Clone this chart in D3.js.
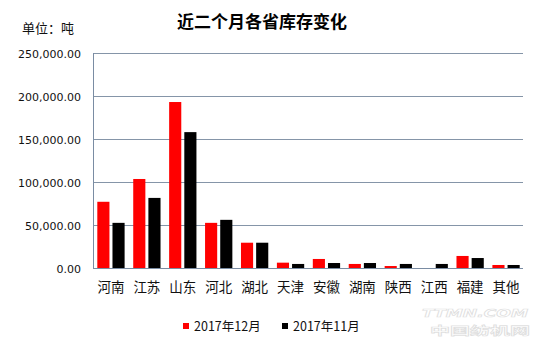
<!DOCTYPE html>
<html>
<head>
<meta charset="utf-8">
<script src="https://cdn.jsdelivr.net/npm/d3@7"></script>
<style>
  html, body { margin: 0; padding: 0; background: #fff; }
  svg { display: block; }
</style>
</head>
<body>
<svg id="chart" width="540" height="349"></svg>
<script>
// Provinces and stock (tonnes) for the last two months
const provinces = ["河南", "江苏", "山东", "河北", "湖北", "天津", "安徽", "湖南", "陕西", "江西", "福建", "其他"];
const stockDec2017 = [77000, 103500, 193000, 52500, 29400, 6200, 10500, 4700, 2300, 0, 14000, 3500];
const stockNov2017 = [52500, 81500, 158000, 56000, 29400, 4700, 5800, 5800, 4700, 4700, 11600, 3500];
const seriesNames = ["2017年12月", "2017年11月"];
const seriesColors = ["#ff0000", "#000000"];
const yTicks = [0, 50000, 100000, 150000, 200000, 250000];

const svg = d3.select("#chart");
const m = { left: 93, right: 524, top: 53, bottom: 268 };
const cjk = "'Noto Sans CJK SC', 'Noto Sans', sans-serif";

const x = d3.scaleBand().domain(provinces).range([m.left, m.right]).paddingInner(0.24).paddingOuter(0.12);
const y = d3.scaleLinear().domain([0, 250000]).range([m.bottom, m.top]);
const xs = d3.scaleBand().domain([0, 1]).range([0, x.bandwidth()]).paddingInner(0.2);

// gridlines
svg.append("g")
  .selectAll("line")
  .data(yTicks.filter(d => d > 0))
  .join("line")
  .attr("x1", m.left).attr("x2", m.right - 1)
  .attr("y1", d => Math.round(y(d)) + 0.5).attr("y2", d => Math.round(y(d)) + 0.5)
  .attr("stroke", "#8595a8").attr("stroke-width", 1);

// y axis labels
const yAxis = d3.axisLeft(y).tickValues(yTicks).tickSize(0).tickPadding(12)
  .tickFormat(d => d3.format(",.2f")(d));
const gy = svg.append("g").attr("transform", `translate(${m.left},0)`).call(yAxis);
gy.select(".domain").remove();
gy.selectAll("text").attr("font-family", "'DejaVu Sans', sans-serif").attr("font-size", 11).attr("fill", "#111").attr("dy", "0.45em");

// bars
const series = [stockDec2017, stockNov2017];
series.forEach((vals, si) => {
  svg.append("g").selectAll("rect")
    .data(provinces.map((p, i) => ({ p, v: vals[i] })))
    .join("rect")
    .attr("x", d => x(d.p) + xs(si))
    .attr("width", xs.bandwidth())
    .attr("y", d => y(d.v))
    .attr("height", d => y(0) - y(d.v))
    .attr("fill", seriesColors[si]);
});

// axis lines
svg.append("line").attr("x1", m.left + 0.5).attr("x2", m.left + 0.5).attr("y1", m.top).attr("y2", m.bottom + 1)
  .attr("stroke", "#7a8ca3");
svg.append("line").attr("x1", m.left).attr("x2", m.right - 1).attr("y1", m.bottom + 0.5).attr("y2", m.bottom + 0.5)
  .attr("stroke", "#7a8ca3");

// category labels
const xAxis = d3.axisBottom(x).tickSize(0).tickPadding(14);
const gx = svg.append("g").attr("transform", `translate(0,${m.bottom})`).call(xAxis);
gx.select(".domain").remove();
gx.selectAll("text").attr("font-family", cjk).attr("font-size", 13.5).attr("fill", "#111");

// title and unit
svg.append("text").attr("x", 262).attr("y", 28).attr("text-anchor", "middle")
  .attr("font-family", cjk).attr("font-weight", "bold").attr("font-size", 17).attr("fill", "#000")
  .text("近二个月各省库存变化");
svg.append("text").attr("x", 22).attr("y", 33)
  .attr("font-family", cjk).attr("font-size", 13).attr("fill", "#111")
  .text("单位：吨");

// legend
const legendX = [183, 282];
seriesNames.forEach((name, i) => {
  svg.append("rect").attr("x", legendX[i]).attr("y", 323).attr("width", 6).attr("height", 6).attr("fill", seriesColors[i]);
  svg.append("text").attr("x", legendX[i] + 11).attr("y", 331)
    .attr("font-family", cjk).attr("font-size", 12.5).attr("fill", "#111").text(name);
});

// site watermark
const wm = svg.append("g").attr("opacity", 0.3);
wm.append("text").attr("x", 422).attr("y", 317)
  .attr("textLength", 106).attr("lengthAdjust", "spacingAndGlyphs")
  .attr("font-family", "'DejaVu Sans', sans-serif").attr("font-weight", "bold").attr("font-style", "italic")
  .attr("font-size", 11).attr("fill", "#fff").attr("stroke", "#999").attr("stroke-width", 0.7).text("TTMN.COM");
wm.append("text").attr("x", 430).attr("y", 335)
  .attr("textLength", 100).attr("lengthAdjust", "spacingAndGlyphs")
  .attr("font-family", cjk).attr("font-weight", "bold")
  .attr("font-size", 11.5).attr("fill", "#fff").attr("stroke", "#999").attr("stroke-width", 0.7).text("中国纺机网");
</script>
</body>
</html>
